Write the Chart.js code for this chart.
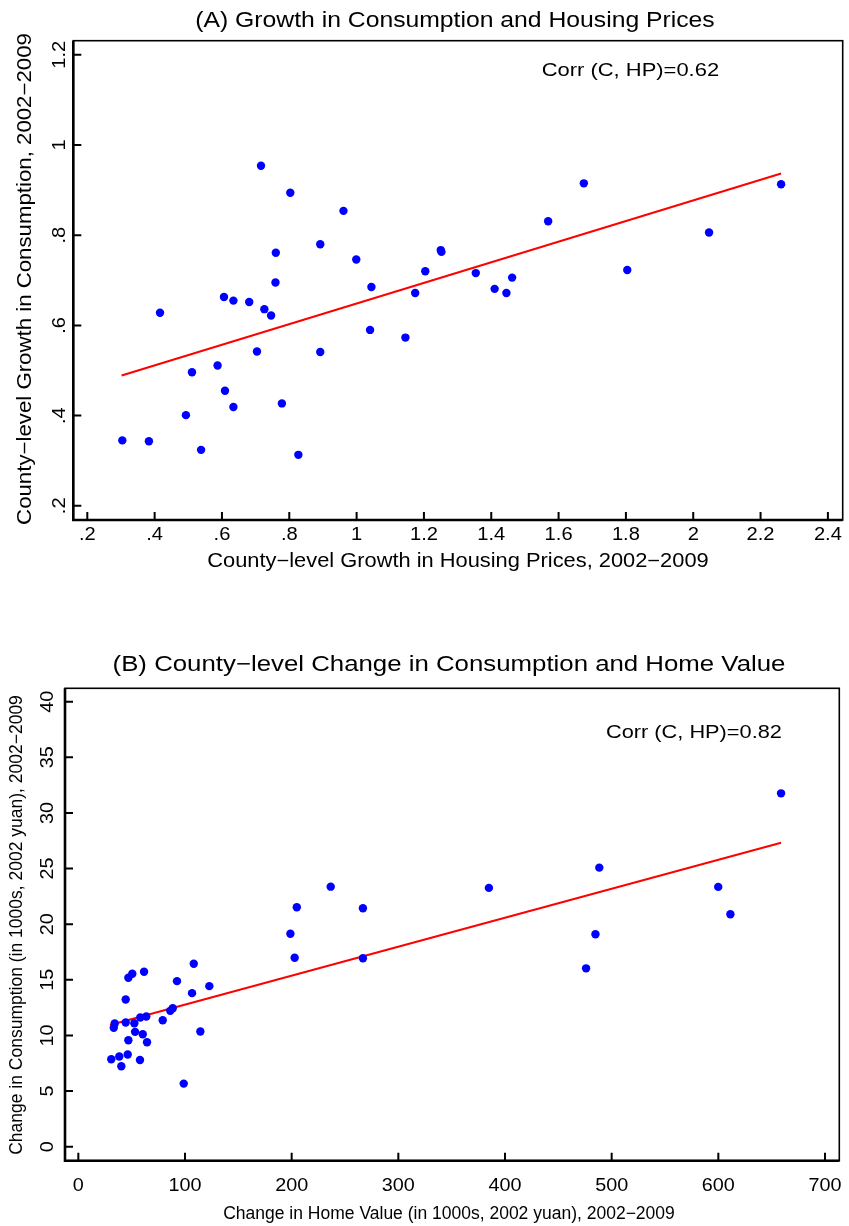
<!DOCTYPE html>
<html>
<head>
<meta charset="utf-8">
<script src="https://cdn.jsdelivr.net/npm/chart.js@4.4.1/dist/chart.umd.min.js"></script>
<style>
  html, body { margin: 0; padding: 0; background: #fff; }
  .panel { position: absolute; left: 0; width: 849px; }
  #panelA { top: 0; height: 600px; }
  #panelB { top: 600px; height: 626px; }
</style>
</head>
<body>
<div class="panel" id="panelA"><canvas id="chartA" width="849" height="600"></canvas></div>
<div class="panel" id="panelB"><canvas id="chartB" width="849" height="626"></canvas></div>
<script>
// Panel A - growth rates 2002-2009, one point per county
const housingGrowth = [0.716, 0.803, 0.961, 0.892, 0.760, 0.999, 1.250, 1.252, 1.204, 0.759,
    1.044, 1.174, 0.606, 0.634, 0.681, 0.726, 0.746, 0.416, 1.040, 1.145,
    0.704, 0.892, 0.587, 0.511, 0.609, 0.634, 0.778, 0.493, 0.304, 0.383,
    0.538, 0.827, 1.354, 1.410, 1.445, 1.462, 1.569, 1.675, 1.804, 2.047, 2.261];
const consumptionGrowth = [0.954, 0.894, 0.854, 0.780, 0.761, 0.746, 0.767, 0.763, 0.720, 0.695,
    0.685, 0.672, 0.663, 0.655, 0.652, 0.636, 0.622, 0.628, 0.590, 0.573,
    0.542, 0.541, 0.511, 0.496, 0.455, 0.419, 0.427, 0.401, 0.345, 0.343,
    0.324, 0.313, 0.716, 0.681, 0.672, 0.706, 0.831, 0.915, 0.723, 0.806, 0.913];
// fitted line end points
const fitHousing = [0.302, 2.261];
const fitConsumption = [0.489, 0.937];
const xTicksA = [0.2, 0.4, 0.6, 0.8, 1, 1.2, 1.4, 1.6, 1.8, 2, 2.2, 2.4];
const yTicksA = [0.2, 0.4, 0.6, 0.8, 1, 1.2];

// Panel B - changes in levels (1000s of 2002 yuan)
const homeValueChange = [108.2, 61.6, 50.6, 46.9, 92.5, 122.8, 106.6, 44.4, 88.5, 86.2,
    63.7, 58.1, 79.1, 44.4, 34.1, 52.5, 33.2, 53.2, 114.4, 60.4,
    46.9, 64.4, 46.3, 38.4, 30.9, 57.8, 40.3, 98.8,
    658.8, 488.4, 236.6, 384.9, 599.9, 204.8, 266.8, 611.3, 198.8, 484.8,
    202.8, 266.8, 476.0];
const consumptionChange = [16.44, 15.72, 15.54, 15.18, 14.88, 14.43, 13.80, 13.23, 12.45, 12.21,
    11.70, 11.61, 11.37, 11.16, 11.07, 11.10, 10.68, 10.32, 10.35, 10.11,
    9.57, 9.39, 8.28, 8.10, 7.86, 7.79, 7.23, 5.67,
    31.76, 25.08, 23.37, 23.26, 23.35, 21.52, 21.43, 20.89, 19.14, 19.09,
    16.98, 16.93, 16.03];
const fitHomeValue = [29.7, 658.8];
const fitConsChange = [10.93, 27.32];
const xTicksB = [0, 100, 200, 300, 400, 500, 600, 700];
const yTicksB = [0, 5, 10, 15, 20, 25, 30, 35, 40];

// Stata style labels: .2 .4 ... 1 1.2
function stataLabel(v) {
    return String(Math.round(v * 10) / 10).replace(/^0\./, '.');
}

function drawLabel(ctx, text, x, y, t) {
    ctx.save();
    ctx.translate(x, y);
    if (t.rotate) ctx.rotate(-Math.PI / 2);
    ctx.scale(t.sx || 1, 1);
    ctx.font = t.size + 'px "Liberation Sans", Arial, sans-serif';
    ctx.fillStyle = '#000';
    ctx.textAlign = t.align || 'center';
    ctx.textBaseline = 'alphabetic';
    ctx.fillText(text, 0, 0);
    ctx.restore();
}

// frame, inward ticks and all texts
const stataPlugin = {
    id: 'stata',
    beforeDatasetsDraw(chart, args, opts) {
        const ctx = chart.ctx;
        const a = chart.chartArea;
        const xs = chart.scales.x, ys = chart.scales.y;
        ctx.save();
        ctx.strokeStyle = '#000';
        ctx.lineWidth = 1.6;
        ctx.strokeRect(a.left, a.top, a.right - a.left, a.bottom - a.top);
        ctx.lineWidth = 2.6;
        ctx.beginPath();
        ctx.moveTo(a.left, a.top);
        ctx.lineTo(a.left, a.bottom);
        ctx.lineTo(a.right, a.bottom);
        ctx.stroke();
        ctx.lineWidth = 2;
        ctx.beginPath();
        xs.ticks.forEach(t => {
            const px = xs.getPixelForValue(t.value);
            ctx.moveTo(px, a.bottom);
            ctx.lineTo(px, a.bottom - 8);
        });
        ys.ticks.forEach(t => {
            const py = ys.getPixelForValue(t.value);
            ctx.moveTo(a.left, py);
            ctx.lineTo(a.left + 8, py);
        });
        ctx.stroke();
        ctx.restore();
    },
    afterDraw(chart, args, opts) {
        const ctx = chart.ctx;
        const xs = chart.scales.x, ys = chart.scales.y;
        xs.ticks.forEach(t => {
            drawLabel(ctx, opts.format(t.value), xs.getPixelForValue(t.value), opts.xTick.y, opts.xTick);
        });
        ys.ticks.forEach(t => {
            drawLabel(ctx, opts.format(t.value), opts.yTick.x, ys.getPixelForValue(t.value), opts.yTick);
        });
        [opts.title, opts.note, opts.xTitle, opts.yTitle].forEach(t => {
            drawLabel(ctx, t.text, t.x, t.y, t);
        });
    }
};

function makeChart(id, c) {
    return new Chart(document.getElementById(id), {
        type: 'scatter',
        data: {
            datasets: [{
                data: c.xs.map((x, i) => ({ x: x, y: c.ys[i] })),
                backgroundColor: '#0000ff',
                borderWidth: 0,
                pointRadius: 4.2,
                pointHoverRadius: 4.2
            }, {
                type: 'line',
                data: c.fitX.map((x, i) => ({ x: x, y: c.fitY[i] })),
                borderColor: '#ff0000',
                borderWidth: 2,
                pointRadius: 0,
                fill: false,
                tension: 0
            }]
        },
        options: {
            responsive: false,
            animation: false,
            devicePixelRatio: 1,
            layout: { padding: c.padding },
            plugins: {
                legend: { display: false },
                tooltip: { enabled: false },
                stata: c.text
            },
            scales: {
                x: {
                    type: 'linear', position: 'bottom', bounds: 'data',
                    min: c.xRange[0], max: c.xRange[1],
                    grid: { display: false }, border: { display: false },
                    ticks: { display: false },
                    afterBuildTicks: s => { s.ticks = c.xTicks.map(v => ({ value: v })); },
                    afterFit: s => { s.height = c.xAxisHeight; }
                },
                y: {
                    type: 'linear', position: 'left', bounds: 'data',
                    min: c.yRange[0], max: c.yRange[1],
                    grid: { display: false }, border: { display: false },
                    ticks: { display: false },
                    afterBuildTicks: s => { s.ticks = c.yTicks.map(v => ({ value: v })); },
                    afterFit: s => { s.width = c.yAxisWidth; }
                }
            }
        },
        plugins: [stataPlugin]
    });
}

makeChart('chartA', {
    xs: housingGrowth, ys: consumptionGrowth,
    fitX: fitHousing, fitY: fitConsumption,
    xTicks: xTicksA, yTicks: yTicksA,
    xRange: [0.1584, 2.444], yRange: [0.1685, 1.2313],
    padding: { top: 40.7, right: 6.3, left: 0, bottom: 0 },
    yAxisWidth: 73.3, xAxisHeight: 80,
    text: {
        format: stataLabel,
        xTick: { y: 540, size: 17.5, sx: 1.15 },
        yTick: { x: 65, size: 17.5, sx: 1.15, rotate: true },
        title: { text: '(A) Growth in Consumption and Housing Prices', x: 455, y: 27, size: 21.5, sx: 1.15 },
        note: { text: 'Corr (C, HP)=0.62', x: 541.7, y: 76, size: 18.6, sx: 1.18, align: 'left' },
        xTitle: { text: 'County\u2212level Growth in Housing Prices, 2002\u22122009', x: 458, y: 567, size: 19.5, sx: 1.12 },
        yTitle: { text: 'County\u2212level Growth in Consumption, 2002\u22122009', x: 31, y: 279, size: 19.5, sx: 1.14, rotate: true }
    }
});

makeChart('chartB', {
    xs: homeValueChange, ys: consumptionChange,
    fitX: fitHomeValue, fitY: fitConsChange,
    xTicks: xTicksB, yTicks: yTicksB,
    xRange: [-12.5, 713.4], yRange: [-1.26, 41.2],
    padding: { top: 88.3, right: 9.7, left: 0, bottom: 0 },
    yAxisWidth: 65, xAxisHeight: 65.3,
    text: {
        format: v => String(v),
        xTick: { y: 590.7, size: 18, sx: 1.1 },
        yTick: { x: 53.3, size: 18, sx: 1.1, rotate: true },
        title: { text: '(B) County\u2212level Change in Consumption and Home Value', x: 449, y: 70.7, size: 21.5, sx: 1.2 },
        note: { text: 'Corr (C, HP)=0.82', x: 606, y: 138.3, size: 18.6, sx: 1.17, align: 'left' },
        xTitle: { text: 'Change in Home Value (in 1000s, 2002 yuan), 2002\u22122009', x: 449, y: 619, size: 17.5, sx: 1.0 },
        yTitle: { text: 'Change in Consumption (in 1000s, 2002 yuan), 2002\u22122009', x: 21.7, y: 325, size: 17.5, sx: 1.0, rotate: true }
    }
});
</script>
</body>
</html>
